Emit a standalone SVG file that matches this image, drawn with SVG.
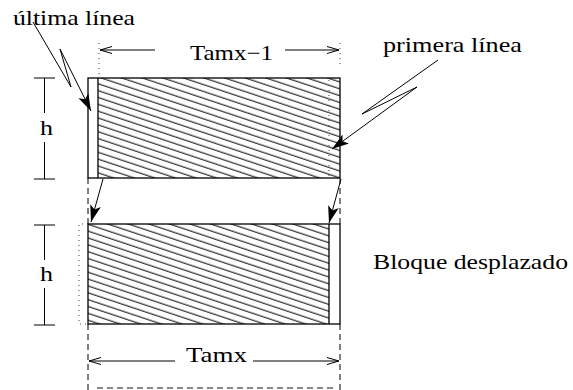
<svg xmlns="http://www.w3.org/2000/svg" width="573" height="390" viewBox="0 0 573 390">
<style>
.t{font-family:"Liberation Serif","Times New Roman",serif;font-size:21px;fill:#000}
.ln{stroke:#000;stroke-width:1;fill:none}
.blk{stroke:#000;stroke-width:1.3;fill:none}
.dot{stroke:#444;stroke-width:1;stroke-dasharray:1 4;fill:none}
.dash{stroke:#000;stroke-width:1;stroke-dasharray:6 4;fill:none}
.gdash{stroke:#888;stroke-width:2;stroke-dasharray:6 4;fill:none}
.dim{stroke:#000;stroke-width:1;fill:none;marker-end:url(#open)}
.ptr{stroke:#000;stroke-width:1;fill:none;marker-end:url(#filled)}
</style>
<defs>
<pattern id="hatch" width="10" height="6.5" patternUnits="userSpaceOnUse" patternTransform="rotate(18.4)">
<line x1="0" y1="3" x2="10" y2="3" stroke="#000" stroke-width="1"/>
</pattern>
<marker id="open" markerWidth="14" markerHeight="10" refX="12" refY="4" orient="auto" markerUnits="userSpaceOnUse">
<path d="M0,0.5 L12,4 L0,7.5" fill="none" stroke="#000" stroke-width="1"/>
</marker>
<marker id="filled" markerWidth="18" markerHeight="14" refX="17" refY="6" orient="auto" markerUnits="userSpaceOnUse">
<path d="M0,0.5 L17,6 L0,11.5 L4,6 z" fill="#000"/>
</marker>
</defs>

<g id="top-block">
<rect x="98" y="78" width="242" height="100" fill="url(#hatch)"/>
<rect x="88" y="78" width="252" height="100" class="blk"/>
<line x1="98" y1="78" x2="98" y2="178" class="blk"/>
<line x1="329" y1="80" x2="329" y2="178" class="dot"/>
</g>

<g id="bottom-block">
<rect x="88" y="224" width="241" height="100" fill="url(#hatch)"/>
<rect x="88" y="224" width="252" height="100" class="blk"/>
<line x1="329" y1="224" x2="329" y2="324" class="blk"/>
<polyline points="88,224 79,224 79,324 88,324" class="dot"/>
</g>

<g id="guides">
<line x1="99" y1="43" x2="99" y2="76" class="dot"/>
<line x1="340" y1="43" x2="340" y2="64" class="dot"/>
<line x1="88" y1="178" x2="88" y2="224" class="dash"/>
<line x1="88" y1="324" x2="88" y2="390" class="dash"/>
<line x1="340" y1="178" x2="340" y2="224" class="dash"/>
<line x1="340" y1="324" x2="340" y2="390" class="dash"/>
<line x1="97" y1="388" x2="336" y2="388" class="gdash"/>
</g>

<g id="dim-h-top">
<line x1="34" y1="78" x2="55" y2="78" class="ln"/>
<line x1="34" y1="179" x2="55" y2="179" class="ln"/>
<line x1="44.5" y1="78" x2="44.5" y2="113" class="ln"/>
<line x1="44.5" y1="142" x2="44.5" y2="179" class="ln"/>
<text x="40" y="135" class="t" textLength="13" lengthAdjust="spacingAndGlyphs">h</text>
</g>

<g id="dim-h-bottom">
<line x1="34" y1="225" x2="55" y2="225" class="ln"/>
<line x1="34" y1="325" x2="55" y2="325" class="ln"/>
<line x1="44.5" y1="225" x2="44.5" y2="260" class="ln"/>
<line x1="44.5" y1="288" x2="44.5" y2="325" class="ln"/>
<text x="40" y="281" class="t" textLength="13" lengthAdjust="spacingAndGlyphs">h</text>
</g>

<g id="dim-tamx1">
<line x1="155" y1="50" x2="100" y2="50" class="dim"/>
<line x1="285" y1="50" x2="339" y2="50" class="dim"/>
<text x="190" y="60" class="t" textLength="83" lengthAdjust="spacingAndGlyphs">Tamx−1</text>
</g>

<g id="dim-tamx">
<line x1="175" y1="361" x2="89" y2="361" class="dim"/>
<line x1="253" y1="361" x2="339" y2="361" class="dim"/>
<text x="186" y="362" class="t" textLength="61" lengthAdjust="spacingAndGlyphs">Tamx</text>
</g>

<g id="label-ultima">
<text x="13" y="25" class="t" textLength="122" lengthAdjust="spacingAndGlyphs">última línea</text>
</g>

<g id="label-primera">
<text x="383" y="52" class="t" textLength="139" lengthAdjust="spacingAndGlyphs">primera línea</text>
</g>

<g id="label-bloque">
<text x="373" y="269" class="t" textLength="195" lengthAdjust="spacingAndGlyphs">Bloque desplazado</text>
</g>

<g id="connectors">
<polyline points="33,22 71,87 60,49 91,111" class="ptr"/>
<polyline points="438,60 362,114 417,87 332,149" class="ptr"/>
<line x1="103" y1="179" x2="91" y2="222" class="ptr"/>
<line x1="341" y1="179" x2="329" y2="223" class="ptr"/>
</g>
</svg>
